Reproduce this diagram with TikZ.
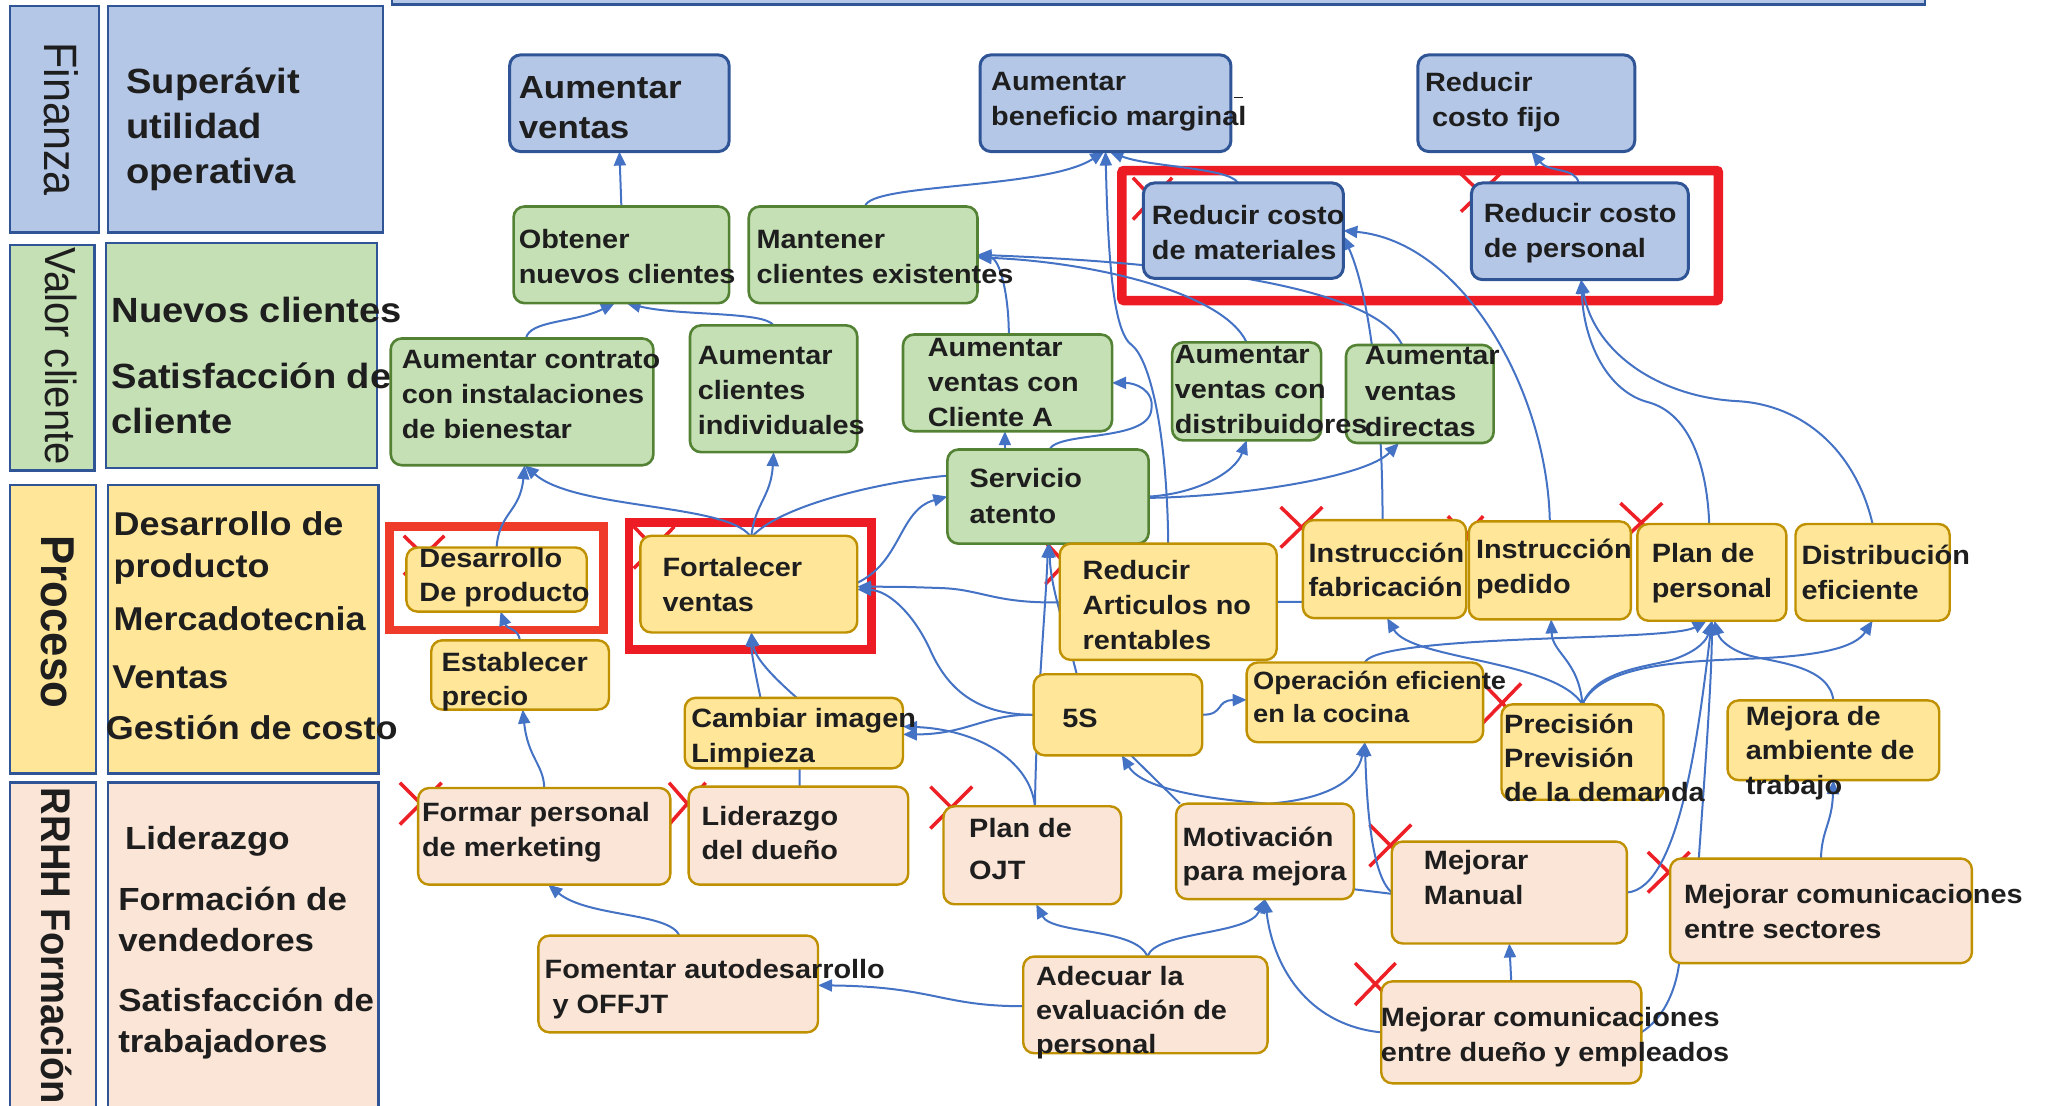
\documentclass[tikz,border=0pt]{standalone}
\usepackage{fontspec}
\setmainfont{Liberation Sans}[FakeStretch=1.09]
\newfontfamily\lblfont{Liberation Sans}[FakeStretch=0.92]
\usetikzlibrary{arrows.meta,calc,fit}
\definecolor{bfill}{HTML}{B4C7E7}
\definecolor{bdraw}{HTML}{2F5597}
\definecolor{gfill}{HTML}{C5E0B4}
\definecolor{gdraw}{HTML}{548235}
\definecolor{yfill}{HTML}{FFE699}
\definecolor{pfill}{HTML}{FBE5D6}
\definecolor{odraw}{HTML}{BF9000}
\definecolor{acol}{HTML}{4472C4}
\definecolor{xred}{HTML}{EE2027}
\definecolor{rred}{HTML}{ED1C24}
\definecolor{ored}{HTML}{EF3B2A}
\definecolor{tcol}{HTML}{1E1E1E}
\newcommand\ts{\rule{0pt}{0.95em}}
\newcommand\redx[4]{\draw[xm] (#1,#2) -- (#3,#4) (#1,#4) -- (#3,#2);}
\pgfdeclarelayer{bg}
\pgfdeclarelayer{edges}
\pgfsetlayers{bg,edges,main}
\begin{document}
\begin{tikzpicture}[x=1.3068pt,y=-1.3068pt,
  every node/.style={inner sep=0pt,outer sep=0pt},
  lbl/.style={rectangle,draw=bdraw,line width=2.6pt},
  bx/.style={rectangle,rounded corners=11pt},
  bluebox/.style={bx,fill=bfill,draw=bdraw,line width=3pt},
  greenbox/.style={bx,fill=gfill,draw=gdraw,line width=2.6pt},
  yelbox/.style={bx,fill=yfill,draw=odraw,line width=2.4pt},
  peachbox/.style={bx,fill=pfill,draw=odraw,line width=2.4pt},
  tx/.style n args={2}{anchor=north west,align=left,text=tcol,font=\fontsize{#1}{#2}\selectfont\bfseries,yshift={0.95*#1pt}},
  nt/.style={tx={26.5}{35}},
  rl/.style={rotate=-90,text=tcol},
  arr/.style={draw=acol,line width=2pt,-{Triangle[length=14pt,width=12pt]}},
  ln/.style={draw=acol,line width=2pt},
  xm/.style={draw=xred,line width=3.5pt}]
\useasboundingbox (0,0) rectangle (1568,846);

% ---------- left legend column ----------
\node[lbl,fill=bfill,fit={(300,-10) (1473,3.5)}] (topbar) {};
\node[lbl,fill=bfill,fit={(7.5,4.6) (75.8,177.8)}] (finL) {};
\node[lbl,fill=bfill,fit={(82.7,4.6) (293,177.8)}] (finB) {};
\node[lbl,fill=gfill,fit={(7.5,187.5) (72.5,360)}] (valL) {};
\node[lbl,fill=gfill,fit={(81,186) (288.6,358)}] (valB) {};
\node[lbl,fill=yfill,fit={(7.5,371) (73.5,592)}] (proL) {};
\node[lbl,fill=yfill,fit={(82.6,371) (289.7,592)}] (proB) {};
\node[lbl,fill=pfill,fit={(7.5,599) (73.5,870)}] (rrL) {};
\node[lbl,fill=pfill,fit={(82.6,599) (289.7,870)}] (rrB) {};

\node[rl,font=\lblfont\fontsize{46.8}{50}\selectfont] (finT) at (47,91) {Finanza};
\node[rl,font=\lblfont\fontsize{43.5}{50}\selectfont] (valT) at (46.5,272.5) {Valor cliente};
\node[rl,font=\lblfont\fontsize{47.5}{50}\selectfont\bfseries] (proT) at (44,476) {Proceso};
\node[rl,anchor=west,font=\lblfont\fontsize{41.5}{50}\selectfont\bfseries] (rrT) at (43,603) {RRHH Formación};

\node[tx={35}{45}] (supT) at (96.7,71.4) {\ts Superávit\\utilidad\\operativa};
\node[tx={35}{45}] (nueT) at (85.4,247) {\ts Nuevos clientes\\[20.4pt]Satisfacción de\\cliente};
\node[tx={33}{41.4}] (desT) at (81,410) {\ts\hspace*{7.8pt}Desarrollo de\\\hspace*{7.8pt}producto\\[12.2pt]\hspace*{7.8pt}Mercadotecnia\\[16pt]\hspace*{6.5pt}Ventas\\[9.5pt]Gestión de costo};
\node[tx={32}{41.2}] (lidT) at (90.5,649.7) {\ts\hspace*{6.8pt}Liderazgo\\[20.4pt]Formación de\\vendedores\\[18.6pt]Satisfacción de\\trabajadores};

% ---------- red frames and crosses ----------
\begin{pgfonlayer}{bg}
\draw[rred,line width=9.5pt,rounded corners=2pt] (858.6,130.5) rectangle (1315,230);
\draw[ored,line width=8.5pt] (298,403) rectangle (462,482);
\draw[rred,line width=8.5pt] (481.5,400) rectangle (667,497);
\redx{867}{136}{897}{168}
\redx{1118}{133}{1148}{162}
\redx{309}{410}{340}{440}
\redx{485}{403}{516}{435}
\redx{800}{415}{830}{447}
\redx{980}{388}{1012}{419}
\redx{1108}{395}{1135}{425}
\redx{1240}{385}{1272}{415}
\redx{1135}{523}{1164}{553}
\redx{306}{599}{338}{631}
\redx{512}{599}{540}{631}
\redx{712}{602}{744}{634}
\redx{1048}{631}{1080}{663}
\redx{1261}{652}{1293}{683}
\redx{1037}{737}{1068}{769}
\end{pgfonlayer}

% ---------- boxes ----------
\node[bluebox,fit={(390,42) (558,116)}] (av) {};
\node[bluebox,fit={(750,42) (942,116)}] (abm) {};
\node[bluebox,fit={(1085,42) (1251,116)}] (rcf) {};
\node[bluebox,fit={(875,140) (1028,213)}] (rcm) {};
\node[bluebox,fit={(1126,140) (1292,214)}] (rcp) {};

\node[greenbox,fit={(393,158) (558,232)}] (onc) {};
\node[greenbox,fit={(573,158) (748,232)}] (mce) {};
\node[greenbox,fit={(299,259) (500,356)}] (acib) {};
\node[greenbox,fit={(528,249) (656,346)}] (aci) {};
\node[greenbox,fit={(691,256) (851,330)}] (avca) {};
\node[greenbox,fit={(897,262) (1011,337)}] (avd) {};
\node[greenbox,fit={(1030,264) (1143,339)}] (avdir) {};
\node[greenbox,fit={(725,344) (879,416)}] (sa) {};

\node[yelbox,fit={(311,419) (449,468)}] (dp) {};
\node[yelbox,fit={(490,410) (656,484)}] (fv) {};
\node[yelbox,fit={(330,490) (466,543)}] (ep) {};
\node[yelbox,fit={(524,534) (691,588)}] (ci) {};
\node[yelbox,fit={(811,416) (977,505)}] (ra) {};
\node[yelbox,fit={(791,516) (920,578)}] (s5) {};
\node[yelbox,fit={(954,507) (1135,568)}] (oe) {};
\node[yelbox,fit={(997,398) (1122,473)}] (ifab) {};
\node[yelbox,fit={(1124,399) (1248,474)}] (ip) {};
\node[yelbox,fit={(1253,401) (1367,475)}] (pp) {};
\node[yelbox,fit={(1374,401) (1492,475)}] (de) {};
\node[yelbox,fit={(1149,539) (1273,612)}] (pre) {};
\node[yelbox,fit={(1322,536) (1484,597)}] (ma) {};

\node[peachbox,fit={(320,603) (513,677)}] (fp) {};
\node[peachbox,fit={(527,602) (695,677)}] (ld) {};
\node[peachbox,fit={(722,617) (858,692)}] (ojt) {};
\node[peachbox,fit={(900,615) (1036,688)}] (mot) {};
\node[peachbox,fit={(1065,644) (1245,722)}] (mm) {};
\node[peachbox,fit={(1278,657) (1509,737)}] (mcs) {};
\node[peachbox,fit={(412,716) (626,790)}] (fa) {};
\node[peachbox,fit={(783,732) (970,806)}] (aep) {};
\node[peachbox,fit={(1057,751) (1256,829)}] (mcd) {};

% ---------- connectors ----------
\begin{pgfonlayer}{edges}
\draw[arr] (onc.north) -- (av.south);
\draw[arr] ($(mce.north)+(1.5,0)$) .. controls (665,140) and (800,145) .. ($(abm.south)+(-1,0)$);
\draw[arr] ($(rcm.north)+(-4,0)$) .. controls (940,128) and (880,128) .. ($(abm.south)+(3,0)$);
\draw[arr] (ra.north) .. controls (893,330) and (880,275) .. (866,264) .. controls (852,254) and (848,200) .. (abm.south);
\draw[arr] ($(rcp.north)+(-1,0)$) .. controls (1206,128) and (1185,132) .. ($(rcf.south)+(4,0)$);
\draw[arr] ($(acib.north)+(3,0)$) .. controls (405,245) and (440,247) .. ($(onc.south)+(-5,0)$);
\draw[arr] (aci.north) .. controls (585,238) and (520,242) .. ($(onc.south)+(4,0)$);
\draw[arr] ($(avca.north)+(1,0)$) .. controls (772,225) and (765,198) .. ($(mce.east)+(0,1)$);
\draw[arr] (avd.north) .. controls (935,222) and (830,200) .. ($(mce.east)+(0,2)$);
\draw[arr] ($(avdir.north)+(-13.5,0)$) .. controls (1050,215) and (880,200) .. (mce.east);
\draw[arr] (sa.east) .. controls (915,378) and (945,362) .. (avd.south);
\draw[arr] ($(sa.east)+(0,1)$) .. controls (950,380) and (1045,365) .. ($(avdir.south)+(-16,0)$);
\draw[arr] ($(sa.north)+(-33,0)$) -- ($(avca.south)+(-2,0)$);
\draw[arr] ($(sa.north)+(1,0)$) .. controls (810,330) and (878,338) .. (881,314) .. controls (884,298) and (868,293) .. (avca.east);
\draw[arr] ($(fv.north)+(1,0)$) .. controls (555,385) and (440,390) .. ($(acib.south)+(2,0)$);
\draw[arr] ($(fv.north)+(2,0)$) .. controls (578,385) and (590,380) .. (aci.south);
\draw[ln] ($(fv.north)+(3,0)$) .. controls (600,385) and (680,368) .. ($(sa.west)+(0,-16)$);
\draw[arr] ($(fv.east)+(0,-1)$) .. controls (690,430) and (688,390) .. (sa.west);
\draw[arr] ($(ifab.west)+(0,25)$) -- (805,461) .. controls (760,461) and (750,451) .. (720,450) .. controls (690,449) .. ($(fv.east)+(0,2)$);
\draw[arr] (s5.west) .. controls (745,547) and (725,525) .. (713,500) .. controls (700,470) and (680,452) .. ($(fv.east)+(0,4)$);
\draw[arr] (s5.west) .. controls (755,546) and (740,562) .. ($(ci.east)+(0,1)$);
\draw[arr] ($(ojt.north)+(2,0)$) .. controls (788,580) and (745,558) .. ($(ci.east)+(0,-5)$);
\draw[arr] ($(ojt.north)+(2,0)$) .. controls (793,540) and (800,470) .. (sa.south);
\draw[arr] ($(s5.north)+(-31.5,0)$) .. controls (815,480) and (804,450) .. ($(sa.south)+(1,0)$);
\draw[arr] (s5.east) .. controls (937,547) and (930,536) .. ($(oe.west)+(0,-2)$);
\draw[ln] ($(mot.north west)+(3,0)$) -- ($(s5.south)+(10,0)$);
\draw[arr] ($(mot.north)+(3,0)$) .. controls (930,612) and (875,605) .. ($(s5.south)+(3,0)$);
\draw[arr] ($(mot.north)+(3,0)$) .. controls (1010,612) and (1038,600) .. (oe.south);
\draw[arr] (mm.west) .. controls (1050,670) and (1046,620) .. (oe.south);
\draw[ln] ($(mot.east)+(0,29)$) -- ($(mm.west)+(0,1)$);
\draw[arr] (mm.east) .. controls (1285,680) and (1300,560) .. (pp.south);
\draw[arr] ($(mcs.north)+(-93.5,0)$) .. controls (1304,600) and (1310,520) .. (pp.south);
\draw[arr] (mcd.north) -- (mm.south);
\draw[arr] (mcd.west) .. controls (1005,785) and (975,745) .. (mot.south);
\draw[ln] (mcd.east) .. controls (1272,780) and (1282,760) .. ($(mcs.south west)+(7,0)$);
\draw[arr] ($(aep.north)+(1.5,0)$) .. controls (870,710) and (805,715) .. ($(ojt.south)+(3,0)$);
\draw[arr] ($(aep.north)+(1.5,0)$) .. controls (885,712) and (955,716) .. (mot.south);
\draw[arr] ($(aep.west)+(0,1)$) .. controls (720,770) and (715,755) .. ($(fa.east)+(0,1)$);
\draw[arr] ($(fa.north)+(1,0)$) .. controls (512,698) and (450,702) .. ($(fp.south)+(3,0)$);
\draw[arr] (fp.north) .. controls (416,585) and (404,580) .. ($(ep.south)+(2,0)$);
\draw[arr] (ep.north) .. controls (396,480) and (388,482) .. ($(dp.south)+(3,0)$);
\draw[arr] (dp.north) .. controls (382,392) and (398,392) .. ($(acib.south)+(2,0)$);
\draw[arr] ($(pp.north)+(-2,0)$) .. controls (1306,350) and (1290,316) .. (1262,308) .. controls (1230,300) and (1212,262) .. ($(rcp.south)+(1,0)$);
\draw[arr] (de.north) .. controls (1420,345) and (1380,310) .. (1330,307) .. controls (1270,304) and (1220,270) .. ($(rcp.south)+(1,0)$);
\draw[arr] (ip.north) .. controls (1184,300) and (1120,185) .. (rcm.east);
\draw[arr] ($(ifab.north)+(-1.5,0)$) .. controls (1058,320) and (1050,230) .. ($(rcm.east)+(0,4)$);
\draw[arr] (pre.north) .. controls (1190,505) and (1080,505) .. ($(ifab.south)+(2,0)$);
\draw[arr] (pre.north) .. controls (1208,505) and (1188,500) .. ($(ip.south)+(1,0)$);
\draw[arr] (pre.north) .. controls (1222,510) and (1270,510) .. (1285,503) .. controls (1300,497) and (1306,490) .. (pp.south);
\draw[arr] (pre.north) .. controls (1225,508) and (1290,506) .. (1340,504) .. controls (1395,502) and (1420,495) .. (de.south);
\draw[arr] (oe.north) .. controls (1050,493) and (1150,490) .. (1200,488) .. controls (1260,486) and (1290,484) .. ($(pp.south)+(-4,0)$);
\draw[arr] (ma.north) .. controls (1400,510) and (1360,507) .. (1340,502) .. controls (1325,498) and (1316,490) .. ($(pp.south)+(2,0)$);
\draw[arr] (mcs.north) .. controls (1394,635) and (1402,630) .. (ma.south);
\draw[arr] ($(ld.north)+(1,0)$) -- (612,536) .. controls (596,522) and (578,505) .. ($(fv.south)+(2,0)$);
\draw[arr] ($(ci.north)+(-25.5,0)$) .. controls (578,515) and (575,500) .. ($(fv.south)+(2,0)$);
\end{pgfonlayer}

% ---------- texts ----------
\node[tx={32}{40}] (avT) at (397,75.2) {\ts Aumentar\\ventas};
\node[nt] (abmT) at (758.5,69.4) {\ts Aumentar\\beneficio marginal};
\draw[tcol,line width=1pt] (944,74.4) -- (951,74.4);
\node[nt] (rcfT) at (1090.5,70.2) {\ts Reducir\\\hspace*{7pt}costo fijo};
\node[nt] (rcmT) at (881.5,172) {\ts Reducir costo\\de materiales};
\node[nt] (rcpT) at (1135.5,170.4) {\ts Reducir costo\\de personal};
\node[nt] (oncT) at (397,190) {\ts Obtener\\nuevos clientes};
\node[nt] (mceT) at (579,190) {\ts Mantener\\clientes existentes};
\node[nt] (acibT) at (307.5,281.9) {\ts Aumentar contrato\\con instalaciones\\de bienestar};
\node[nt] (aciT) at (534,279.3) {\ts Aumentar\\clientes\\individuales};
\node[nt] (avcaT) at (710,273) {\ts Aumentar\\ventas con\\Cliente A};
\node[nt] (avdT) at (899,278) {\ts Aumentar\\ventas con\\distribuidores};
\node[tx={26.5}{36}] (avdirT) at (1044.5,279.3) {\ts Aumentar\\ventas\\directas};
\node[tx={26.5}{36}] (saT) at (742,373) {\ts Servicio\\atento};
\node[tx={26.5}{34}] (dpT) at (321,434.5) {\ts Desarrollo\\De producto};
\node[nt] (fvT) at (507,441.3) {\ts Fortalecer\\ventas};
\node[tx={26.5}{34}] (epT) at (338,514.2) {\ts Establecer\\precio};
\node[nt] (ciT) at (529,556.7) {\ts Cambiar imagen\\Limpieza};
\node[nt] (raT) at (828.5,443.8) {\ts Reducir\\Articulos no\\rentables};
\node[nt] (s5T) at (813,556.7) {\ts 5S};
\node[tx={25}{33}] (oeT) at (959,528) {\ts Operación eficiente\\en la cocina};
\node[tx={26.5}{34.5}] (ifT) at (1001.4,430.3) {\ts Instrucción\\fabricación};
\node[nt] (ipT) at (1129.5,427.3) {\ts Instrucción\\pedido};
\node[nt] (ppT) at (1264,430.7) {\ts Plan de\\personal};
\node[nt] (deT) at (1378.6,431.6) {\ts Distribución\\eficiente};
\node[tx={26.5}{34}] (preT) at (1151,561.4) {\ts Precisión\\Previsión\\de la demanda};
\node[tx={26.5}{34.5}] (maT) at (1336,555) {\ts Mejora de\\ambiente de\\trabajo};
\node[nt] (fpT) at (323,629) {\ts Formar personal\\de merketing};
\node[tx={26.5}{34}] (ldT) at (537,632) {\ts Liderazgo\\del dueño};
\node[tx={26.5}{42}] (ojtT) at (741.7,641) {\ts Plan de\\OJT};
\node[tx={26.5}{34}] (motT) at (905,647.4) {\ts Motivación\\para mejora};
\node[nt] (mmT) at (1089.7,665.7) {\ts Mejorar\\Manual};
\node[nt] (mcsT) at (1288.7,691.5) {\ts Mejorar comunicaciones\\entre sectores};
\node[nt] (faT) at (416.8,748.8) {\ts Fomentar autodesarrollo\\\hspace*{8pt}y OFFJT};
\node[tx={26.5}{33.6}] (aepT) at (792.8,754.5) {\ts Adecuar la\\evaluación de\\personal};
\node[nt] (mcdT) at (1056.8,785.6) {\ts Mejorar comunicaciones\\entre dueño y empleados};
\end{tikzpicture}
\end{document}
